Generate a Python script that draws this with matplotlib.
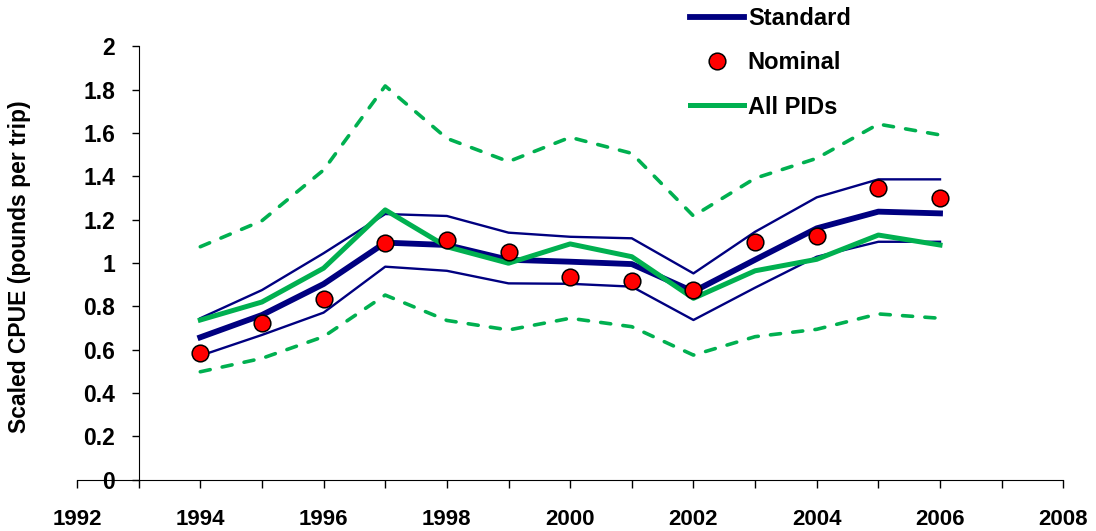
import matplotlib
matplotlib.use("Agg")
import matplotlib.pyplot as plt
from matplotlib.ticker import MultipleLocator

plt.rcParams['font.family'] = ['Liberation Sans', 'DejaVu Sans']
plt.rcParams['font.weight'] = 'bold'

years = [1994, 1995, 1996, 1997, 1998, 1999, 2000, 2001, 2002, 2003, 2004, 2005, 2006]
standard = [0.657, 0.76, 0.903, 1.094, 1.083, 1.015, 1.006, 0.995, 0.868, 1.015, 1.160, 1.237, 1.229]
standard_upper = [0.745, 0.875, 1.045, 1.226, 1.217, 1.140, 1.121, 1.114, 0.952, 1.144, 1.303, 1.386, 1.386]
standard_lower = [0.572, 0.668, 0.771, 0.983, 0.964, 0.906, 0.904, 0.891, 0.737, 0.886, 1.029, 1.098, 1.098]
nominal = [0.583, 0.725, 0.832, 1.091, 1.106, 1.052, 0.934, 0.918, 0.875, 1.098, 1.125, 1.345, 1.298]
all_pids = [0.737, 0.820, 0.976, 1.245, 1.075, 0.999, 1.088, 1.029, 0.837, 0.964, 1.017, 1.129, 1.083]
all_upper = [1.075, 1.195, 1.429, 1.817, 1.575, 1.468, 1.580, 1.506, 1.217, 1.391, 1.483, 1.641, 1.591]
all_lower = [0.498, 0.560, 0.660, 0.852, 0.735, 0.691, 0.745, 0.706, 0.575, 0.660, 0.694, 0.765, 0.745]
y_ticks = [0, 0.2, 0.4, 0.6, 0.8, 1, 1.2, 1.4, 1.6, 1.8, 2]
y_tick_labels = ['0', '0.2', '0.4', '0.6', '0.8', '1', '1.2', '1.4', '1.6', '1.8', '2']

navy = '#000080'
green = '#00B050'

fig = plt.figure(figsize=(10.96, 5.31), dpi=100)
ax = fig.add_axes([77/1096, 1-479.7/531, (1063.3-77)/1096, (479.7-46.3)/531])

dash = (0, (2.8, 3.4))
for ys in (all_upper, all_lower):
    ax.plot(years, ys, color=green, lw=2.6, ls=dash, dash_capstyle='round')
ax.plot(years, standard_upper, color=navy, lw=1.7)
ax.plot(years, standard_lower, color=navy, lw=1.7)
l1, = ax.plot(years, standard, color=navy, lw=4.2, label='Standard')
l3, = ax.plot(years, all_pids, color=green, lw=3.6, label='All PIDs')
l2, = ax.plot(years, nominal, ls='none', marker='o', ms=12, mfc='#FF0000', mec='black', mew=1.1, label='Nominal')

ax.set_xlim(1992, 2008)
ax.set_ylim(0, 2)
ax.spines['top'].set_visible(False)
ax.spines['right'].set_visible(False)
ax.spines['left'].set_position(('data', 1993))
ax.xaxis.set_major_locator(MultipleLocator(2))
ax.xaxis.set_minor_locator(MultipleLocator(1))
ax.set_yticks(y_ticks)
ax.set_yticklabels(y_tick_labels)
ax.tick_params(axis='x', which='both', direction='out', length=6, width=1, labelsize=16, pad=15)
ax.tick_params(axis='y', direction='out', length=5, width=1, labelsize=16.5, pad=12)
for t in ax.get_xticklabels() + ax.get_yticklabels():
    t.set_fontweight('bold')

fig.text(20/1096, 1-267/531, 'Scaled CPUE (pounds per trip)', rotation=90, va='center', ha='center',
         fontsize=16.5, fontweight='bold')

leg = fig.legend(handles=[l1, l2, l3], loc='upper left', bbox_to_anchor=(690/1096, 1-7/531),
                 frameon=False, fontsize=17, handlelength=2.3, handletextpad=0.15,
                 labelspacing=0.9, borderpad=0, borderaxespad=0)
for t in leg.get_texts():
    t.set_fontweight('bold')

fig.savefig('out.png', dpi=100)
